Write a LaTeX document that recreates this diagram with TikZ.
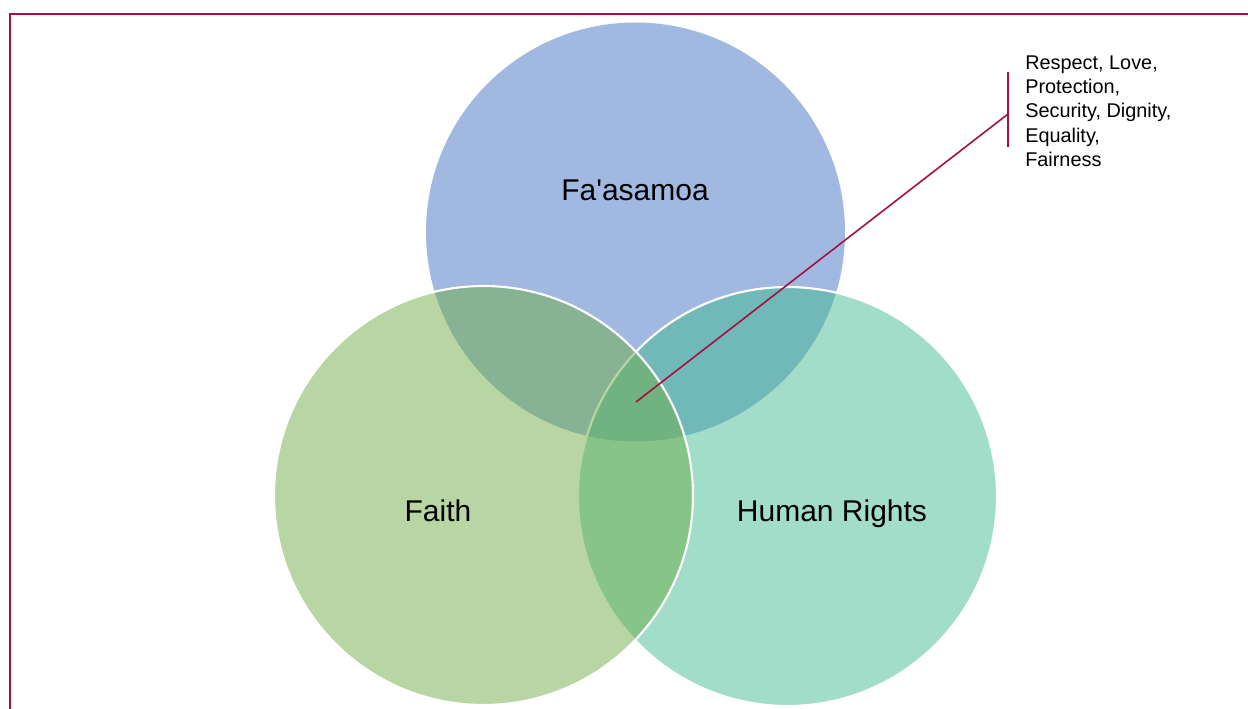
\documentclass[tikz,border=0pt]{standalone}
\usepackage{fontspec}
\setmainfont{Liberation Sans}[Ligatures=TeXOff]
\definecolor{crim}{RGB}{165,16,66}
\definecolor{cblue}{RGB}{68,114,196}
\definecolor{cgreen}{RGB}{111,173,71}
\definecolor{cteal}{RGB}{67,187,145}
\tikzset{
  venn/.style={circle, minimum size=314.25pt, inner sep=0pt, outer sep=0pt,
    draw=white, line width=1.6pt, fill opacity=0.5, draw opacity=1},
  biglabel/.style={anchor=base, inner sep=0pt, font=\fontsize{22.5}{27}\selectfont},
  callout/.style={crim, line width=1.2pt},
}
\begin{document}
\begin{tikzpicture}[x=0.75pt,y=-0.75pt]
\useasboundingbox (0,0) rectangle (1248,709);
% border
\draw[crim, line width=1.6pt] (10,730) -- (10,14) -- (1270,14);
% circles (drawing order: blue, teal, green)
\node[venn, fill=cblue, draw opacity=0] (faa) at (635.5,232) {};
\node[venn, fill=cteal] (hr) at (787.5,496.5) {};
\node[venn, fill=cgreen] (fai) at (483.5,495.5) {};
% labels
\node[biglabel] (lfaa) at (635,201) {Fa'asamoa};
\node[biglabel] (lfai) at (438,521) {Faith};
\node[biglabel] (lhr) at (832,521) {Human Rights};
% callout
\coordinate (cstart) at (636,402);
\coordinate (bartop) at (1008,72);
\coordinate (barbot) at (1008,147);
\coordinate (barmid) at (1008,114);
\draw[callout] (bartop) -- (barbot);
\draw[callout] (cstart) -- (barmid);
\node[anchor=north west, inner sep=0pt, align=left,
  font=\fontsize{14.9}{18.2}\selectfont] (ctext) at (1025,55.5)
  {Respect, Love,\\Protection,\\Security, Dignity,\\Equality,\\Fairness};
\end{tikzpicture}
\end{document}
